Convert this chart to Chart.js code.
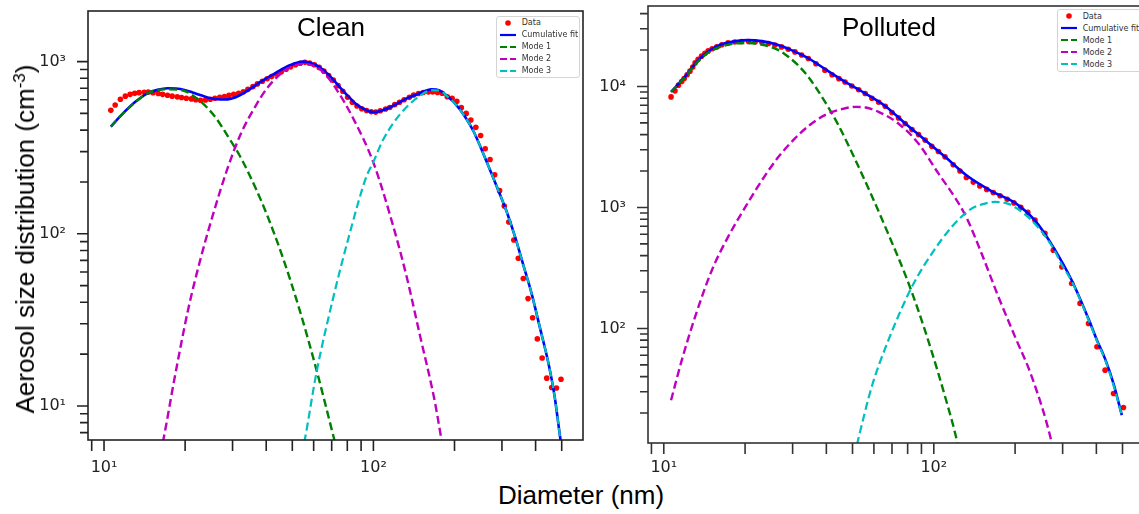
<!DOCTYPE html>
<html lang="en">
  <head>
    <meta charset="UTF-8" />
    <title>Aerosol size distribution: Clean vs Polluted</title>
    <script src="https://cdn.jsdelivr.net/npm/chart.js@4.4.0/dist/chart.umd.min.js"></script>
    <style>
      body {
        margin: 0;
        width: 1139px;
        height: 514px;
        overflow: hidden;
        position: relative;
        background: #fff;
        font-family: "Liberation Sans", Arial, sans-serif;
      }
      canvas {
        position: absolute;
        top: 0;
      }
      #clean-chart { left: 0; }
      #polluted-chart { left: 600px; }
      .title, .xlabel {
        position: absolute;
        font-size: 26px;
        line-height: 26px;
        color: #000;
        white-space: nowrap;
        transform: translateX(-50%);
      }
      .ylabel {
        position: absolute;
        left: 25px;
        top: 239px;
        font-size: 26px;
        line-height: 26px;
        white-space: nowrap;
        transform: translate(-50%, -50%) rotate(-90deg);
      }
      .ylabel sup {
        font-size: 17px;
        line-height: 0;
        vertical-align: 9px;
      }
      .legend {
        position: absolute;
        box-sizing: border-box;
        background: #fff;
        border: 1px solid #d4d4d4;
        border-radius: 3px;
        padding: 0 0 0 2.5px;
        font-family: "DejaVu Sans", sans-serif;
        font-size: 8px;
        color: #333;
      }
      .legend .row {
        display: flex;
        align-items: center;
        white-space: nowrap;
      }
      .legend svg {
        margin-right: 6.2px;
        flex: none;
      }
    </style>
  </head>
  <body>
    <canvas id="clean-chart" width="600" height="480"></canvas>
    <canvas id="polluted-chart" width="560" height="480"></canvas>

    <div class="title" style="left: 331px; top: 14px">Clean</div>
    <div class="title" style="left: 889px; top: 14px">Polluted</div>
    <div class="ylabel">Aerosol size distribution (cm<sup>-3</sup>)</div>
    <div class="xlabel" style="left: 581px; top: 482px">Diameter (nm)</div>

    <div class="legend" id="clean-legend" style="left: 496px; top: 16px; width: 84px; height: 62px"></div>
    <div class="legend" id="polluted-legend" style="left: 1057px; top: 9px; width: 95px; height: 63px"></div>

    <script>
      // Series names and colours (shared by both panels)
      const seriesLabels = ["Data", "Cumulative fit", "Mode 1", "Mode 2", "Mode 3"];
      const seriesColors = ["#ff0000", "#0000ff", "#008000", "#bf00bf", "#00bfbf"];

      // Tick positions
      const xTicks = [9, 10, 20, 30, 40, 50, 60, 70, 80, 90, 100, 200, 300, 400, 500];
      const cleanYTicks = [7, 8, 9, 10, 20, 30, 40, 50, 60, 70, 80, 90, 100, 200, 300, 400, 500, 600, 700, 800, 900, 1000];
      const pollutedYTicks = [20, 30, 40, 50, 60, 70, 80, 90, 100, 200, 300, 400, 500, 600, 700, 800, 900,
        1000, 2000, 3000, 4000, 5000, 6000, 7000, 8000, 9000, 10000, 20000, 30000, 40000];

      // ---- Clean panel ----
      const cleanDataD = [10.6, 11.0, 11.5, 12.0, 12.5, 13.0, 13.5, 14.1, 14.6, 15.2,
        15.9, 16.5, 17.2, 17.9, 18.7, 19.4, 20.2, 21.1, 21.9, 22.8,
        23.8, 24.8, 25.8, 26.9, 28.0, 29.1, 30.3, 31.6, 32.9, 34.2,
        35.7, 37.1, 38.7, 40.3, 41.9, 43.7, 45.5, 47.4, 49.3, 51.4,
        53.5, 55.7, 58.0, 60.4, 62.9, 65.5, 68.2, 71.0, 73.9, 77.0,
        80.2, 83.5, 86.9, 90.5, 94.3, 98.2, 102, 106, 111, 115,
        120, 125, 130, 136, 141, 147, 153, 160, 166, 173,
        180, 188, 196, 204, 212, 221, 230, 240, 250, 260,
        271, 282, 294, 306, 318, 332, 345, 360, 375, 390,
        406, 423, 440, 459, 478, 497];
      const cleanDataN = [521, 560, 604, 630, 645, 654, 660, 664, 665, 660,
        652, 645, 638, 630, 624, 618, 613, 607, 600, 596,
        598, 604, 612, 620, 626, 636, 645, 655, 668, 690,
        715, 742, 768, 795, 818, 844, 873, 903, 932, 958,
        978, 990, 982, 958, 925, 880, 830, 780, 725, 672,
        620, 580, 552, 532, 520, 511, 509, 518, 530, 541,
        562, 580, 600, 620, 640, 652, 662, 666, 666, 662,
        655, 625, 612, 588, 540, 500, 458, 415, 372, 312,
        270, 220, 178, 145, 117, 92, 72, 55, 42, 32.5,
        24.5, 19, 14.5, 12.8, 12.7, 14.3];

      const cleanFitD = [10.6, 11.57, 12.97, 14.5, 15.8, 17.2, 18.5, 19.9, 21.3, 22.9,
        24.6, 26.4, 28.0, 29.6, 31.8, 34.2, 38, 43.6, 48.5, 54.8,
        61.4, 66, 70.8, 76, 81.6, 86, 91.5, 96, 101, 107,
        115, 123, 132.6, 148.6, 164, 176, 189, 200, 218, 235,
        252, 270, 290, 312, 335, 360, 386, 415, 446, 470, 495, 505];
      const cleanFitN = [419, 487, 578, 654, 685, 700, 697, 684, 662, 637,
        615, 604, 602, 609, 635, 680, 760, 863, 945, 1000,
        952, 880, 789, 695, 617, 568, 535, 515, 509, 518,
        541, 572, 609, 655, 690, 680, 626, 575, 483, 395,
        309, 238, 181, 135, 96.8, 66, 45.4, 28.5, 17.8, 11.5, 6.34, 5.2];

      const cleanMode1D = [10.6, 11.57, 12.97, 14.5, 16.75, 19.3, 22.3, 25.7, 28.8, 32.3, 36.6, 40.1, 46.2, 53.3, 61.4, 71.9, 75];
      const cleanMode1N = [419, 487, 575, 654, 690, 684, 604, 483, 369, 274, 183, 131, 72, 35.8, 16.3, 6.2, 4.8];

      const cleanMode2D = [15.8, 16.6, 18.2, 20.5, 22.9, 25.7, 28.8, 32.3, 36.6, 40, 43.6, 48,
        54.8, 61.4, 66, 72.9, 84, 99.7, 115, 132.6, 148.6, 169, 179, 186];
      const cleanMode2N = [4.5, 6.34, 14, 36, 73, 138, 242, 385, 555, 690, 805, 910,
        970, 930, 850, 690, 470, 262, 130, 57, 26, 10.6, 6.34, 4.5];

      const cleanMode3D = [53, 55.6, 61.4, 70.8, 81.6, 94.2, 99.7, 108.5, 125, 148.6, 164, 176, 189, 200,
        218, 235, 252, 270, 290, 312, 335, 360, 386, 415, 446, 470, 495, 505];
      const cleanMode3N = [4.5, 6.34, 15.5, 42, 100, 215, 259, 350, 490, 632, 682, 678, 624, 574,
        482, 395, 309, 238, 181, 135, 96.8, 66, 45.4, 28.5, 17.8, 11.5, 6.34, 5.2];

      // ---- Polluted panel ----
      const pollDataD = [10.64, 11.0, 11.33, 11.65, 11.9, 12.2, 12.5, 12.8, 13.06,
        13.4, 13.8, 14.2, 14.6, 15.1, 15.7, 16.4, 17.3, 18.3, 19.4,
        20.6, 21.8, 23.1, 24.4, 25.8, 27.3, 28.9, 30.6, 32.4, 34.3,
        36.6, 39.5, 42.0, 44.5, 46.9, 49.7, 52.7, 55.7, 59.0, 62.5,
        66.1, 70.0, 74.0, 78.3, 83.0, 87.8, 92.9, 98.3, 104, 110,
        118, 125, 132, 140, 148, 157, 166, 176, 187, 198,
        210, 223, 237, 258, 277, 298, 324, 348, 374, 402,
        431, 463, 504];
      const pollDataN = [8200, 9200, 10250, 11000, 11650, 12500, 13380, 14500, 15660,
        16800, 17800, 18800, 19680, 20500, 21240, 22100, 22920, 23300, 23530,
        23550, 23400, 23100, 22650, 22000, 21240, 20300, 19300, 18200, 17020,
        15400, 13640, 12500, 11600, 10900, 10100, 9400, 8740, 8000, 7400,
        6870, 6100, 5500, 4940, 4400, 4000, 3600, 3200, 2900, 2620,
        2250, 2000, 1770, 1620, 1505, 1410, 1330, 1250, 1170, 1090,
        1005, 910, 785, 610, 443, 323, 235, 161, 110, 70.5,
        45.2, 29, 22.2];

      const pollFitD = [10.64, 11.3, 12.0, 13.0, 14.0, 15.0, 16.5, 18.5, 20.5, 23.0,
        26, 30, 34, 40, 47, 56, 66, 78, 93, 110,
        134, 164, 200, 238, 277, 324, 374, 402, 431, 463, 497];
      const pollFitN = [9020, 10400, 12100, 15200, 18000, 20300, 22400, 23700, 24150, 23700,
        22300, 19800, 17300, 13700, 10900, 8700, 6900, 5000, 3600, 2620,
        1800, 1360, 1090, 770, 470, 250, 120, 80, 56, 35, 19.2];

      const pollMode1D = [10.64, 12, 13, 14.5, 16, 18, 20.5, 23.5, 26.6, 29, 31.5, 34.3, 39.5, 44.3,
        51.1, 58.9, 67.9, 78.3, 87.7, 98.3, 110, 122.3, 127];
      const pollMode1N = [9020, 12000, 15000, 18800, 21000, 22500, 22900, 22000, 19950, 17500, 14900, 12000, 7500, 4800,
        2500, 1250, 600, 280, 140, 64, 27.5, 11.3, 7.2];

      const pollMode2D = [10.64, 11.66, 13.06, 15.07, 17.3, 20.0, 23.1, 26.6, 30.6, 34.3, 39.5, 45, 51.1,
        56, 62.4, 73.9, 87.7, 104, 120, 132, 150.7, 173.5, 200, 230.7, 273.5, 285];
      const pollMode2N = [25.5, 54.7, 124.8, 303, 571, 1000, 1680, 2620, 3720, 4700, 5800, 6450, 6780,
        6700, 6170, 4940, 3380, 1910, 1200, 830, 410, 182.5, 85.2, 39.8, 11.3, 7];

      const pollMode3D = [49.5, 52.1, 58.9, 67.9, 82.9, 98.3, 116.6, 136.2, 150.7, 168.6, 189, 211.6,
        244, 277, 298, 324, 374, 402, 431, 463, 497];
      const pollMode3N = [7, 11.3, 33, 80, 220, 415, 692, 960, 1060, 1110, 1070, 920,
        680, 460, 335, 246, 118, 79, 55, 34, 19.2];

      const superscripts = { 1: "\u00b9", 2: "\u00b2", 3: "\u00b3", 4: "\u2074" };
      const isDecade = (v) => Math.abs(Math.log10(v) - Math.round(Math.log10(v))) < 1e-9;
      const decadeLabel = (v) => (isDecade(v) ? "10" + superscripts[Math.round(Math.log10(v))] : "");

      // Draws the full axes box and matplotlib-style outward ticks
      const frameTicks = {
        id: "frameTicks",
        afterDatasetsDraw(chart, args, opts) {
          const { ctx, chartArea: a, scales } = chart;
          ctx.save();
          ctx.strokeStyle = opts.color;
          ctx.lineWidth = opts.width;
          ctx.strokeRect(a.left, a.top, a.right - a.left, a.bottom - a.top);
          ctx.beginPath();
          scales.x.ticks.forEach((t) => {
            const px = scales.x.getPixelForValue(t.value);
            if (px < a.left - 0.5 || px > a.right + 0.5) return;
            ctx.moveTo(px, a.bottom);
            ctx.lineTo(px, a.bottom + opts.xLen);
          });
          scales.y.ticks.forEach((t) => {
            const py = scales.y.getPixelForValue(t.value);
            if (py < a.top - 0.5 || py > a.bottom + 0.5) return;
            ctx.moveTo(a.left, py);
            ctx.lineTo(a.left - (isDecade(t.value) ? opts.yMajor : opts.yMinor), py);
          });
          ctx.stroke();
          ctx.restore();
        },
      };

      const pts = (xs, ys) => xs.map((x, i) => ({ x: x, y: ys[i] }));

      function makeChart(id, cfg) {
        const curve = (i, xs, ys, dashed, width) => ({
          label: seriesLabels[i],
          data: pts(xs, ys),
          showLine: true,
          pointRadius: 0,
          borderColor: seriesColors[i],
          borderWidth: width,
          borderDash: dashed ? [8, 4] : [],
          cubicInterpolationMode: "monotone",
          clip: 0,
          order: 5 - i,
        });
        return new Chart(document.getElementById(id), {
          type: "scatter",
          data: {
            datasets: [
              {
                label: seriesLabels[0],
                data: pts(cfg.data[0], cfg.data[1]),
                showLine: false,
                pointRadius: 2.8,
                pointBackgroundColor: seriesColors[0],
                pointBorderWidth: 0,
                order: 5,
              },
              curve(1, cfg.fit[0], cfg.fit[1], false, 2.6),
              curve(2, cfg.mode1[0], cfg.mode1[1], true, 2.4),
              curve(3, cfg.mode2[0], cfg.mode2[1], true, 2.4),
              curve(4, cfg.mode3[0], cfg.mode3[1], true, 2.2),
            ],
          },
          options: {
            responsive: false,
            animation: false,
            layout: { padding: cfg.padding },
            plugins: {
              legend: { display: false },
              tooltip: { enabled: false },
              frameTicks: { color: cfg.frame, width: 1.6, xLen: 11, yMajor: 11, yMinor: 8 },
            },
            scales: {
              x: {
                type: "logarithmic",
                min: cfg.xMin,
                max: cfg.xMax,
                afterBuildTicks: (s) => {
                  s.ticks = xTicks.map((v) => ({ value: v }));
                },
                afterFit: (s) => {
                  s.height = cfg.xHeight;
                  s.paddingLeft = 0;
                  s.paddingRight = 0;
                },
                grid: { display: false },
                border: { display: false },
                ticks: {
                  autoSkip: false,
                  maxRotation: 0,
                  padding: cfg.xPad,
                  color: "#222",
                  font: { family: "DejaVu Sans", size: 16 },
                  callback: decadeLabel,
                },
              },
              y: {
                type: "logarithmic",
                min: cfg.yMin,
                max: cfg.yMax,
                afterBuildTicks: (s) => {
                  s.ticks = cfg.yTicks.map((v) => ({ value: v }));
                },
                afterFit: (s) => {
                  s.width = 48;
                  s.paddingTop = 0;
                  s.paddingBottom = 0;
                },
                grid: { display: false },
                border: { display: false },
                ticks: {
                  autoSkip: false,
                  padding: 14,
                  color: "#222",
                  font: { family: "DejaVu Sans", size: 16 },
                  callback: decadeLabel,
                },
              },
            },
          },
          plugins: [frameTicks],
        });
      }

      makeChart("clean-chart", {
        data: [cleanDataD, cleanDataN],
        fit: [cleanFitD, cleanFitN],
        mode1: [cleanMode1D, cleanMode1N],
        mode2: [cleanMode2D, cleanMode2N],
        mode3: [cleanMode3D, cleanMode3N],
        xMin: 8.72,
        xMax: 599.8,
        yMin: 6.34,
        yMax: 1967,
        yTicks: cleanYTicks,
        padding: { left: 40, top: 11, right: 17, bottom: 0 },
        xHeight: 40,
        xPad: 10,
        frame: "#222",
      });

      makeChart("polluted-chart", {
        data: [pollDataD, pollDataN],
        fit: [pollFitD, pollFitN],
        mode1: [pollMode1D, pollMode1N],
        mode2: [pollMode2D, pollMode2N],
        mode3: [pollMode3D, pollMode3N],
        xMin: 8.74,
        xMax: 616,
        yMin: 11.3,
        yMax: 46250,
        yTicks: pollutedYTicks,
        padding: { left: 0, top: 6, right: 13, bottom: 0 },
        xHeight: 37,
        xPad: 7,
        frame: "#333",
      });

      // Legends (matplotlib-style box inside the upper right corner)
      function buildLegend(el, pitch) {
        seriesLabels.forEach((lab, i) => {
          const row = document.createElement("div");
          row.className = "row";
          row.style.height = pitch + "px";
          const handle =
            i === 0
              ? '<svg width="16" height="8"><circle cx="8" cy="4" r="2.8" fill="' + seriesColors[0] + '"/></svg>'
              : '<svg width="16" height="8"><line x1="0" y1="4" x2="16" y2="4" stroke="' + seriesColors[i] +
                '" stroke-width="2.2"' + (i > 1 ? ' stroke-dasharray="7 3"' : "") + "/></svg>";
          row.innerHTML = handle + "<span>" + lab + "</span>";
          el.appendChild(row);
        });
      }
      buildLegend(document.getElementById("clean-legend"), 11.9);
      buildLegend(document.getElementById("polluted-legend"), 12.1);
    </script>
  </body>
</html>
